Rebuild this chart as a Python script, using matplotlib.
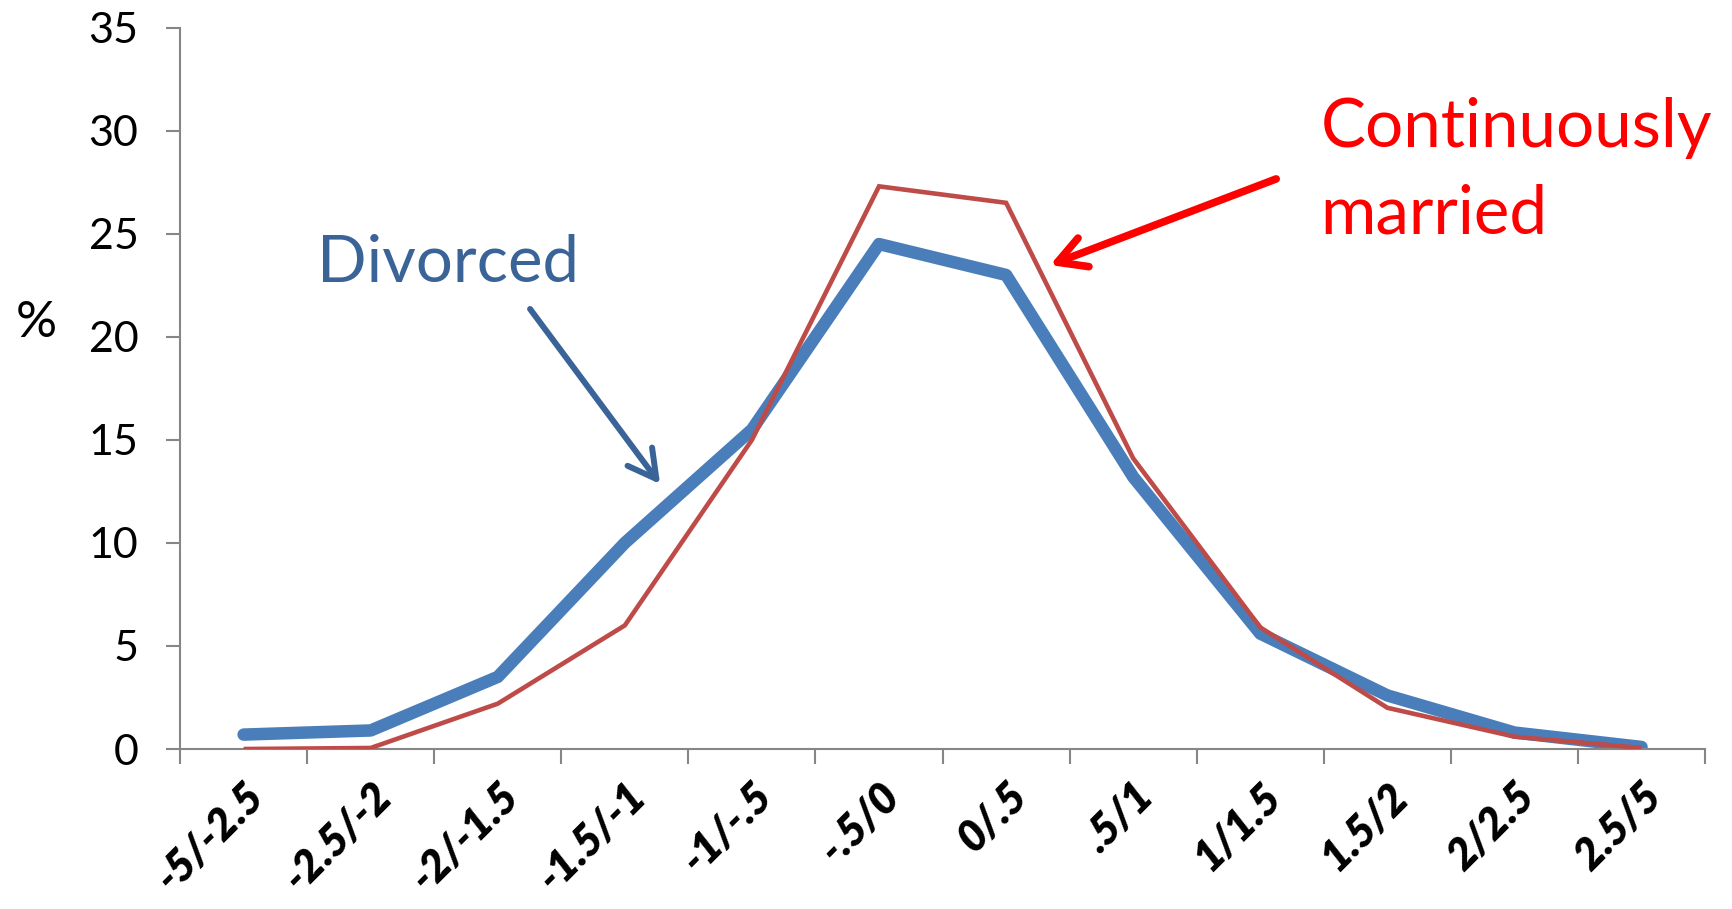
import matplotlib
matplotlib.use("Agg")
import matplotlib.pyplot as plt

# category bins and percentages
categories = ["-5/-2.5", "-2.5/-2", "-2/-1.5", "-1.5/-1", "-1/-.5", "-.5/0",
              "0/.5", ".5/1", "1/1.5", "1.5/2", "2/2.5", "2.5/5"]
divorced = [0.7, 0.9, 3.5, 10.0, 15.5, 24.5, 23.0, 13.2, 5.6, 2.6, 0.8, 0.1]
married = [0.0, 0.05, 2.2, 6.0, 15.0, 27.3, 26.5, 14.1, 5.9, 2.0, 0.6, 0.05]
y_ticks = [0, 5, 10, 15, 20, 25, 30, 35]

plt.rcParams['font.family'] = ['Lato', 'DejaVu Sans']

fig = plt.figure(figsize=(17.33, 9.09), dpi=100)
ax = fig.add_axes([0.1039, 0.176, 0.880, 0.7936])

x = list(range(len(categories)))

# thick blue divorced line, thin red married line on top
ax.plot(x, divorced, color='#4A7EBB', linewidth=9,
        solid_capstyle='round', solid_joinstyle='round', zorder=2)
ax.plot(x, married, color='#BE4B48', linewidth=3.3,
        solid_capstyle='butt', solid_joinstyle='miter', zorder=3)

ax.set_xlim(-0.5, len(categories) - 0.5)
ax.set_ylim(0, 35)
ax.set_yticks(y_ticks)
ax.set_yticklabels([str(v) for v in y_ticks], fontsize=31)

# ticks on the category boundaries, labels at the centres
ax.set_xticks([i - 0.5 for i in range(len(categories) + 1)])
ax.set_xticklabels([])
ax.set_xticks(x, minor=True)
ax.set_xticklabels(categories, minor=True, rotation=45, ha='right',
                   va='top', rotation_mode='anchor', fontsize=31,
                   fontweight='heavy', fontstyle='italic')
ax.tick_params(axis='x', which='minor', length=0, pad=19)
ax.tick_params(axis='x', which='major', length=11, width=1.5,
               color='#868686', direction='out')
ax.tick_params(axis='y', length=10, width=1.5, color='#868686', pad=20)

for side in ['top', 'right']:
    ax.spines[side].set_visible(False)
for side in ['left', 'bottom']:
    ax.spines[side].set_color('#868686')
    ax.spines[side].set_linewidth(1.5)

ax.text(-0.0944, 0.571, "%", transform=ax.transAxes, ha='center',
        va='baseline', fontsize=37)

# annotations
ax.text(0.578, 22.66, "Divorced", color='#3A6497', fontsize=47,
        ha='left', va='baseline')
ax.annotate("", xy=(3.277, 12.86), xytext=(2.254, 21.35),
            arrowprops=dict(arrowstyle='->,head_length=1.0,head_width=0.55',
                            color='#3A6497', linewidth=4.3,
                            mutation_scale=20, shrinkA=0, shrinkB=0))

ax.text(8.475, 29.21, "Continuously", color='#FF0000', fontsize=48.5,
        ha='left', va='baseline')
ax.text(8.475, 24.99, "married", color='#FF0000', fontsize=48.5,
        ha='left', va='baseline')
ax.annotate("", xy=(6.346, 23.48), xytext=(8.125, 27.66),
            arrowprops=dict(arrowstyle='->,head_length=1.0,head_width=0.55',
                            color='#FF0000', linewidth=5.5,
                            mutation_scale=20, shrinkA=0, shrinkB=0))

fig.savefig("out.png", dpi=100)
